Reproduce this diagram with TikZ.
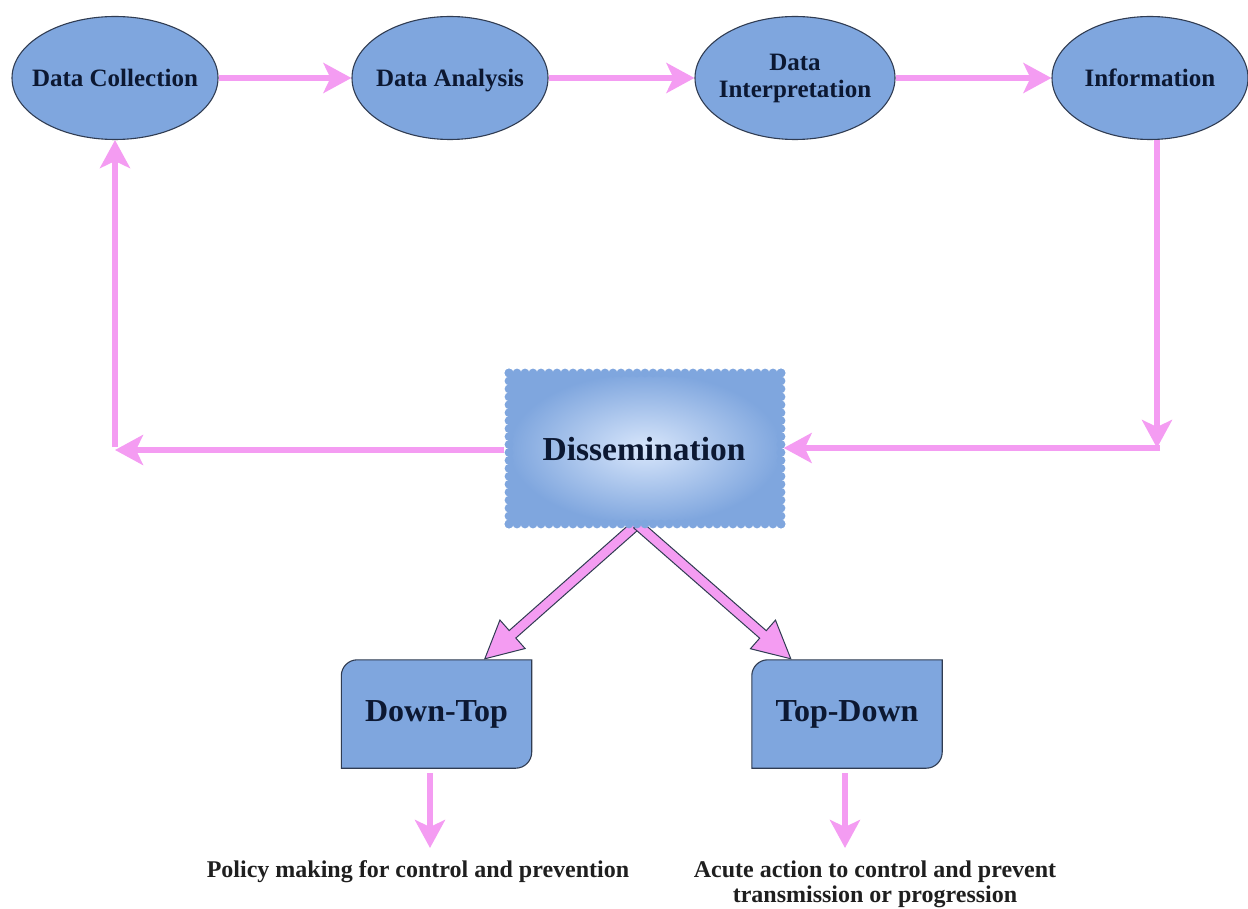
\documentclass[tikz,border=0pt]{standalone}
\usepackage{fontspec}
\setmainfont{Liberation Serif}
\usetikzlibrary{shapes.geometric,arrows.meta,calc,backgrounds}

\definecolor{nodeblue}{RGB}{127,166,222}
\definecolor{edgeline}{RGB}{48,60,82}
\definecolor{flowpink}{RGB}{244,156,242}
\definecolor{inktext}{RGB}{12,24,50}
\definecolor{glowblue}{RGB}{216,230,251}

% hollow-looking wide arrow: #1 start, #2 tip, #3 name of the head base point
\newcommand\drawwidearrow[3]{%
  \coordinate (#3) at ($(#2)!37pt!(#1)$);
  \path[widearrow]
    ($(#1)!5pt!90:(#2)$) -- ($(#3)!5pt!90:(#2)$) -- ($(#3)!19pt!90:(#2)$)
    -- (#2)
    -- ($(#3)!19pt!-90:(#2)$) -- ($(#3)!5pt!-90:(#2)$)
    -- ($(#1)!5pt!-90:(#2)$) -- cycle;}

\begin{document}
\begin{tikzpicture}[x=1pt,y=-1pt,
  stage/.style={ellipse, draw=edgeline, line width=1.1pt, fill=nodeblue,
    minimum width=206pt, minimum height=123pt, inner sep=0pt},
  stagetext/.style={align=center, inner sep=0pt, text=inktext,
    font=\fontsize{25}{27}\selectfont\bfseries},
  flow/.style={draw=flowpink, line width=6pt,
    -{Stealth[length=28pt,width=30pt,inset=7pt,fill=flowpink]}},
  tabbox/.style={minimum width=190pt, minimum height=108pt, inner sep=0pt,
    text=inktext, font=\fontsize{32}{34}\selectfont\bfseries},
  tabshape/.style={fill=nodeblue, draw=edgeline, line width=1.1pt},
  note/.style={align=center, text=black!88, font=\fontsize{24}{25}\selectfont\bfseries},
  widearrow/.style={fill=flowpink, draw=edgeline, line width=1pt, line join=miter}
]
\useasboundingbox (0,0) rectangle (1248,909);

% processing chain
\node[stage, label={[stagetext]center:Data Collection}] (dc) at (115,78) {};
\node[stage, minimum width=196pt, label={[stagetext, yshift=-3pt]center:Data Analysis}] (da) at (450,78) {};
\node[stage, minimum width=200pt, label={[stagetext]center:Data\\Interpretation}] (di) at (795,78) {};
\node[stage, minimum width=196pt, label={[stagetext]center:Information}] (inf) at (1150,78) {};

% dissemination and its two routes
\node[minimum width=279pt, minimum height=158pt, inner sep=0pt, text=inktext,
  font=\fontsize{33.5}{36}\selectfont\bfseries] (dis) at (644,449) {Dissemination};
\node[tabbox] (dt) at (436.5,714) {Down-Top};
\node[tabbox] (td) at (847,714) {Top-Down};

\node[note] (pol) at (418,872) {Policy making for control and prevention};
\node[note] (act) at (875,884.5) {Acute action to control and prevent\\transmission or progression};

% corners of the feedback loop and ends of the outcome arrows
\coordinate (rc) at (1157,448);
\coordinate (lc) at (115,450);
\coordinate (p1) at (430,848);
\coordinate (p2) at (845,848);
\coordinate (fs) at ([shift={(-7pt,4pt)}]dis.south);
\coordinate (t1) at ([shift={(143.5pt,1pt)}]dt.north west);
\coordinate (t2) at ([shift={(39pt,1pt)}]td.north west);

\begin{scope}[on background layer]
  \drawwidearrow{fs}{t1}{b1}
  \drawwidearrow{fs}{t2}{b2}
  % cloudy box with a soft glow
  \shade[inner color=glowblue, outer color=nodeblue] (509,373) rectangle (781,524);
  \foreach \i in {0,...,34} {
    \fill[nodeblue] (509+8*\i,373) circle[radius=4.4pt];
    \fill[nodeblue] (509+8*\i,524) circle[radius=4.4pt];
  }
  \foreach \j in {0,...,19} {
    \fill[nodeblue] (509,373+7.947*\j) circle[radius=4.4pt];
    \fill[nodeblue] (781,373+7.947*\j) circle[radius=4.4pt];
  }
  % tabs with two rounded corners
  \foreach \b in {dt,td} {
    \path[tabshape] (\b.south west) -- ([yshift=-16pt]\b.north west)
      arc[start angle=180, end angle=90, radius=16pt] -- (\b.north east)
      -- ([yshift=16pt]\b.south east)
      arc[start angle=0, end angle=-90, radius=16pt] -- cycle;
  }
\end{scope}

% main flow
\draw[flow] (dc) -- (da);
\draw[flow] (da) -- (di);
\draw[flow] (di) -- (inf);
\draw[flow] (inf.south -| rc) -- (rc);
\draw[flow] ([xshift=3pt]rc) -- (dis.east |- rc);
\draw[flow] (dis.west |- lc) -- (lc);
\draw[flow] ([yshift=3pt]lc) -- (dc.south -| lc);

% outcomes
\draw[flow] ([shift={(-6.5pt,-5pt)}]dt.south) -- (p1);
\draw[flow] ([shift={(-2pt,-5pt)}]td.south) -- (p2);
\end{tikzpicture}
\end{document}
